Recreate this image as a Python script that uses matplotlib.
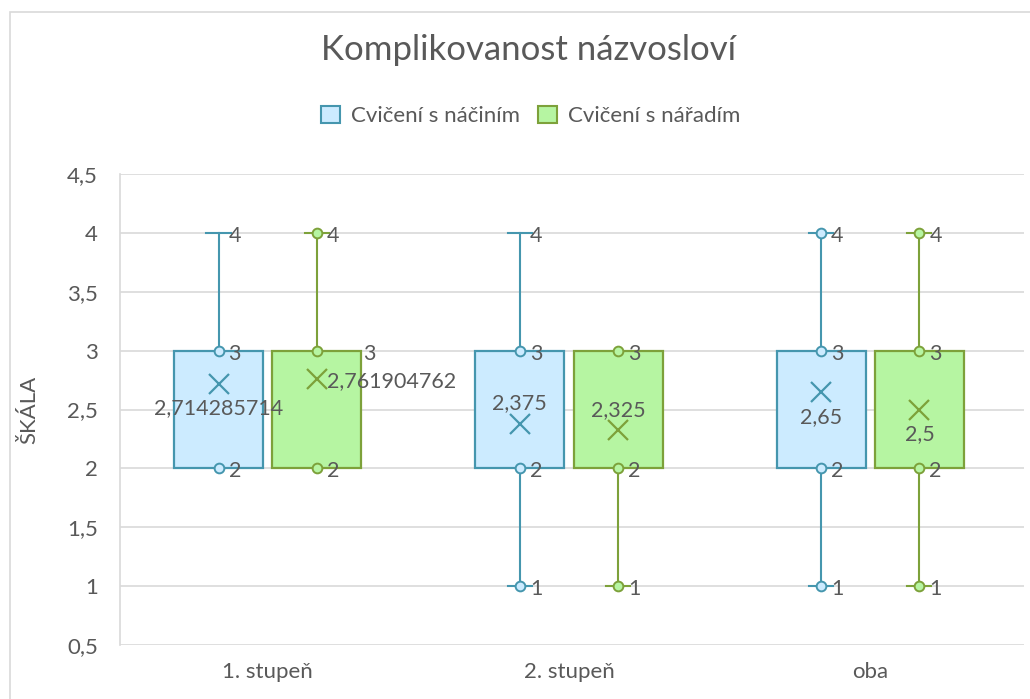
import matplotlib.pyplot as plt
import matplotlib.patches as mpatches
import numpy as np

plt.rcParams["font.family"] = ["Lato", "DejaVu Sans"]

groups = ["1. stupeň", "2. stupeň", "oba"]
series = ["Cvičení s náčiním", "Cvičení s nářadím"]

# box statistics per series (one value per group)
nacinim_min = [2, 1, 1]
nacinim_q1 = [2, 2, 2]
nacinim_q3 = [3, 3, 3]
nacinim_max = [4, 4, 4]
nacinim_mean = [2.714285714, 2.375, 2.65]
nacinim_points = [[2, 3], [1, 2, 3], [1, 2, 3, 4]]

naradim_min = [2, 1, 1]
naradim_q1 = [2, 2, 2]
naradim_q3 = [3, 3, 3]
naradim_max = [4, 3, 4]
naradim_mean = [2.761904762, 2.325, 2.5]
naradim_points = [[2, 3, 4], [1, 2, 3], [1, 2, 3, 4]]

TEXT = "#595959"
GRID = "#D9D9D9"
edge_colors = ["#4596AE", "#7DA13A"]
fill_colors = ["#CCEBFF", "#B6F5A2"]

stats = [
    (nacinim_min, nacinim_q1, nacinim_q3, nacinim_max, nacinim_mean, nacinim_points),
    (naradim_min, naradim_q1, naradim_q3, naradim_max, naradim_mean, naradim_points),
]

# mean label placement (pixel offsets) per series / group
mean_offsets = [
    [(0, -24, "center"), (0, 21, "center"), (0, -25, "center")],
    [(10, -2, "left"), (0, 20, "center"), (0, -25, "center")],
]

fig = plt.figure(figsize=(10.3, 6.99), dpi=100)
ax = fig.add_axes([120 / 1030, 1 - 645 / 699, 904 / 1030, (645 - 174) / 699])

# outer chart border
fig.patches.append(mpatches.Rectangle((10 / 1030, -0.01), 1.0, 1 - 12 / 699 + 0.01,
                                      transform=fig.transFigure, fill=False,
                                      edgecolor=GRID, lw=1.2))

x = np.arange(len(groups))
offset = 0.163
width = 0.296
cap = 0.04

for s, (mn, q1, q3, mx, mean, pts) in enumerate(stats):
    ec, fc = edge_colors[s], fill_colors[s]
    for g in range(len(groups)):
        cx = x[g] + (offset if s else -offset)
        # whiskers
        if mx[g] > q3[g]:
            ax.plot([cx, cx], [q3[g], mx[g]], color=ec, lw=1.5, zorder=2)
            ax.plot([cx - cap, cx + cap], [mx[g], mx[g]], color=ec, lw=1.5, zorder=2)
        if mn[g] < q1[g]:
            ax.plot([cx, cx], [mn[g], q1[g]], color=ec, lw=1.5, zorder=2)
            ax.plot([cx - cap, cx + cap], [mn[g], mn[g]], color=ec, lw=1.5, zorder=2)
        # box
        ax.add_patch(mpatches.Rectangle((cx - width / 2, q1[g]), width, q3[g] - q1[g],
                                        facecolor=fc, edgecolor=ec, lw=1.6, zorder=3))
        # inner points
        ax.plot([cx] * len(pts[g]), pts[g], "o", ms=7, mfc=fc, mec=ec, mew=1.4, zorder=4)
        # mean
        ax.plot(cx, mean[g], "x", ms=14, mew=1.6, color=ec, zorder=4)
        dx, dy, ha = mean_offsets[s][g]
        ax.annotate(str(mean[g]).replace(".", ","), (cx, mean[g]), xytext=(dx, dy),
                    textcoords="offset pixels", ha=ha, va="center",
                    fontsize=15.5, color=TEXT, zorder=5)
        # value labels
        for v in sorted({mn[g], q1[g], q3[g], mx[g]}):
            lx = 10
            if s == 1 and g == 0 and v == q3[g]:
                lx = 46
            ax.annotate(str(v), (cx, v), xytext=(lx, -3), textcoords="offset pixels",
                        ha="left", va="center", fontsize=15.5, color=TEXT, zorder=5)

ax.set_xlim(-0.49, 2.51)
ax.set_ylim(0.5, 4.5)
ax.set_yticks(np.arange(0.5, 4.51, 0.5))
ax.set_yticklabels([f"{t:g}".replace(".", ",") for t in np.arange(0.5, 4.51, 0.5)])
ax.set_xticks(x)
ax.set_xticklabels(groups)
ax.tick_params(axis="both", length=0, labelsize=16, labelcolor=TEXT)
ax.tick_params(axis="y", pad=16)
ax.tick_params(axis="x", pad=12)
ax.grid(axis="y", color=GRID, lw=1.2)
ax.set_axisbelow(True)
for side in ["top", "right", "bottom"]:
    ax.spines[side].set_visible(False)
ax.spines["left"].set_color(GRID)
ax.spines["left"].set_linewidth(1.2)
ax.set_ylabel("ŠKÁLA", fontsize=16, color=TEXT, labelpad=20)

fig.text(0.513, 1 - 50 / 699, "Komplikovanost názvosloví", ha="center", va="center",
         fontsize=25, color=TEXT)

handles = [mpatches.Patch(facecolor=fill_colors[i], edgecolor=edge_colors[i], lw=1.5,
                          label=series[i]) for i in range(2)]
fig.legend(handles=handles, loc="center", bbox_to_anchor=(0.515, 1 - 116 / 699), ncol=2,
           frameon=False, fontsize=16, labelcolor=TEXT, handlelength=0.85, handleheight=0.85,
           columnspacing=0.8, handletextpad=0.5)

fig.savefig("out.png", dpi=100)
